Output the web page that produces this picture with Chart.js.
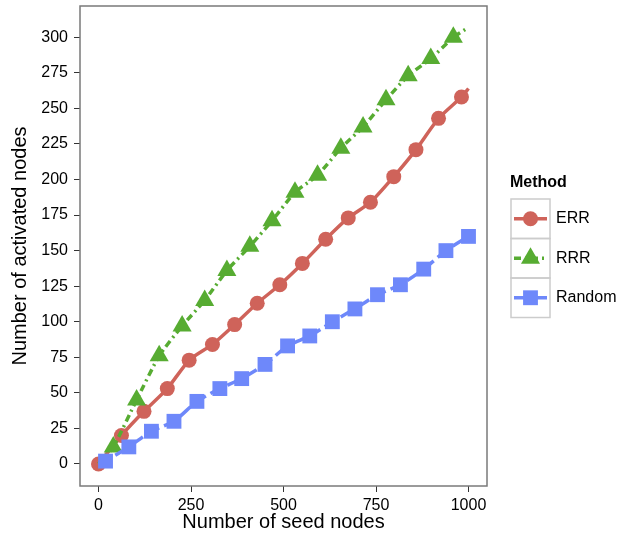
<!DOCTYPE html>
<html>
<head>
<meta charset="utf-8">
<script src="https://cdn.jsdelivr.net/npm/chart.js@4/dist/chart.umd.min.js"></script>
<style>
  html, body { margin: 0; padding: 0; background: #fff; }
  #wrap { width: 622px; height: 536px; }
</style>
</head>
<body>
<div id="wrap"><canvas id="chart" width="622" height="536"></canvas></div>
<script>
// values
const errX = [0, 62, 123, 186, 245, 308, 368, 429, 490, 551, 614, 675, 735, 798, 858, 919, 981, 1000];
const errY = [0, 20, 37, 53, 73, 84, 98, 113, 126, 141, 158, 173, 184, 202, 221, 243, 258, 264];
const rrrX = [0, 40, 103, 164, 226, 287, 347, 409, 469, 531, 592, 655, 715, 777, 837, 898, 959, 1000];
const rrrY = [0, 12, 45, 76, 97, 115, 136, 153, 171, 191, 203, 222, 237, 256, 273, 285, 300, 307];
const randX = [0, 19, 82, 143, 204, 266, 328, 387, 450, 511, 571, 632, 693, 754, 816, 879, 939, 1000];
const randY = [0, 2, 12, 23, 30, 44, 53, 60, 70, 83, 90, 100, 109, 119, 126, 137, 150, 160];
// which points carry a marker (line ends without one)
const errMarks = errX.map((v, i) => i < errX.length - 1);
const rrrMarks = rrrX.map((v, i) => i > 0 && i < rrrX.length - 1);
const randMarks = randX.map((v, i) => i > 0);

const xTicks = [0, 250, 500, 750, 1000];
const yTicks = [0, 25, 50, 75, 100, 125, 150, 175, 200, 225, 250, 275, 300];
const legendTitle = 'Method';

const FONT = '"Liberation Sans", Arial, Helvetica, sans-serif';
const red = 'rgb(207,99,90)';
const green = 'rgb(87,172,50)';
const blue = 'rgb(110,136,250)';

function pts(xs, ys) {
  return xs.map((x, i) => ({ x: x, y: ys[i] }));
}

const datasets = [
  { label: 'ERR', data: pts(errX, errY), borderColor: red, backgroundColor: red,
    borderWidth: 3.5, pointStyle: 'circle', pointRadius: errMarks.map(m => m ? 7.5 : 0),
    borderDash: [], order: 3 },
  { label: 'RRR', data: pts(rrrX, rrrY), borderColor: green, backgroundColor: green,
    borderWidth: 3.5, pointStyle: 'triangle', pointRadius: rrrMarks.map(m => m ? 11 : 0),
    borderDash: [7, 4, 2, 4], order: 2 },
  { label: 'Random', data: pts(randX, randY), borderColor: blue, backgroundColor: blue,
    borderWidth: 3.5, pointStyle: 'rect', pointRadius: randMarks.map(m => m ? 10.5 : 0),
    borderDash: [14, 5], order: 1 }
];
datasets.forEach(d => {
  d.pointBorderWidth = 0;
  d.pointHoverRadius = d.pointRadius;
  d.tension = 0.2;
  d.fill = false;
});

// panel frame + ggplot style legend on the right
const framePlugin = {
  id: 'frame',
  afterDraw(chart) {
    const ctx = chart.ctx;
    const a = chart.chartArea;
    ctx.save();
    ctx.strokeStyle = '#7a7a7a';
    ctx.lineWidth = 1.5;
    ctx.strokeRect(a.left, a.top, a.right - a.left, a.bottom - a.top);

    const lx = 511, ly = 199, kw = 39, kh = 39.5;
    ctx.fillStyle = '#000';
    ctx.font = 'bold 16px ' + FONT;
    ctx.textBaseline = 'middle';
    ctx.fillText(legendTitle, 510, 183);
    chart.data.datasets.forEach((d, i) => {
      const y = ly + i * kh;
      ctx.strokeStyle = '#cccccc';
      ctx.lineWidth = 1.5;
      ctx.setLineDash([]);
      ctx.strokeRect(lx, y, kw, kh);
      ctx.strokeStyle = d.borderColor;
      ctx.lineWidth = d.borderWidth;
      ctx.setLineDash(d.borderDash);
      ctx.beginPath();
      ctx.moveTo(lx + 3, y + kh / 2);
      ctx.lineTo(lx + kw - 3, y + kh / 2);
      ctx.stroke();
      ctx.setLineDash([]);
      ctx.fillStyle = d.backgroundColor;
      const r = Math.max.apply(null, d.pointRadius);
      Chart.helpers.drawPoint(ctx, { pointStyle: d.pointStyle, radius: r, borderWidth: 0, rotation: 0 }, lx + kw / 2, y + kh / 2);
      ctx.fillStyle = '#000';
      ctx.font = '16px ' + FONT;
      ctx.fillText(d.label, 556, y + kh / 2);
    });
    ctx.restore();
  }
};

new Chart(document.getElementById('chart'), {
  type: 'line',
  data: { datasets: datasets },
  plugins: [framePlugin],
  options: {
    responsive: false,
    animation: false,
    layout: { autoPadding: false, padding: { top: 6, right: 135 } },
    plugins: { legend: { display: false }, tooltip: { enabled: false } },
    scales: {
      x: {
        type: 'linear', min: -50, max: 1050,
        afterBuildTicks: s => { s.ticks = xTicks.map(v => ({ value: v })); },
        afterFit: s => { s.height = 50; s.paddingLeft = 0; s.paddingRight = 0; },
        grid: { drawOnChartArea: false, drawTicks: true, tickLength: 6, color: '#333', lineWidth: 1 },
        border: { display: false },
        ticks: { color: '#000', font: { family: FONT, size: 16 }, padding: 4, maxRotation: 0,
                 callback: v => String(v) },
        title: { display: true, text: 'Number of seed nodes', color: '#000',
                 font: { family: FONT, size: 20 }, padding: { top: 0, bottom: 2 } }
      },
      y: {
        type: 'linear', min: -15.5, max: 322,
        afterBuildTicks: s => { s.ticks = yTicks.map(v => ({ value: v })); },
        afterFit: s => { s.width = 80; s.paddingTop = 0; s.paddingBottom = 0; },
        grid: { drawOnChartArea: false, drawTicks: true, tickLength: 6, color: '#333', lineWidth: 1 },
        border: { display: false },
        ticks: { color: '#000', font: { family: FONT, size: 16 }, padding: 6,
                 callback: v => String(v) },
        title: { display: true, text: 'Number of activated nodes', color: '#000',
                 font: { family: FONT, size: 20 }, padding: { top: 8, bottom: 0 } }
      }
    }
  }
});
</script>
</body>
</html>
